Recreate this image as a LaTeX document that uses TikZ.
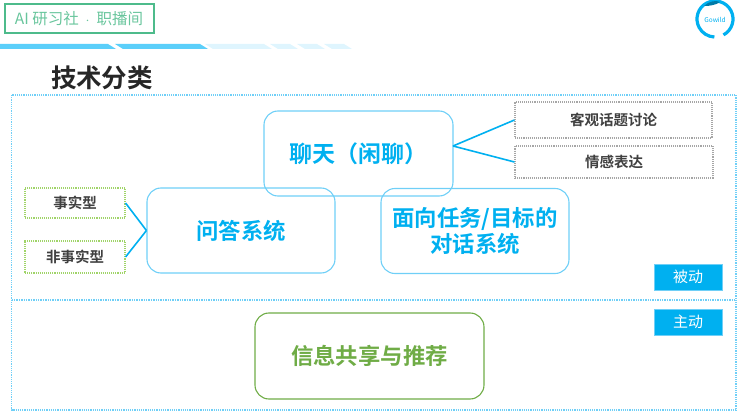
\documentclass[tikz,border=0pt]{standalone}
\usepackage{fontspec}
\setmainfont{Noto Sans CJK SC}[BoldFont={Noto Sans CJK SC Bold}]
\definecolor{skyline}{HTML}{00B0F0}
\definecolor{softline}{HTML}{6FCFF7}
\definecolor{tagline}{HTML}{4DBB8B}
\definecolor{leafline}{HTML}{6FAC46}
\definecolor{limeline}{HTML}{A0D468}
\definecolor{stripblue}{HTML}{5BCFFA}
\definecolor{stripsoft}{HTML}{DFF5FE}
\tikzset{
	mainbox/.style={draw=softline,line width=1.1pt,rounded corners=14pt,text=skyline,font=\fontsize{22.4}{26.5}\selectfont\bfseries,align=center,inner sep=0pt},
	limebox/.style={draw=limeline,densely dotted,line width=1.1pt,text=black!75,font=\fontsize{14.5}{16}\selectfont\bfseries,inner sep=0pt},
	greybox/.style={draw=black!35,densely dotted,line width=1.1pt,text=black!75,font=\fontsize{14.5}{16}\selectfont\bfseries,inner sep=0pt},
	tagbox/.style={fill=skyline,draw=softline,line width=.6pt,text=white,font=\fontsize{15}{16}\selectfont,inner sep=0pt,minimum width=68pt,minimum height=26pt},
	link/.style={skyline,line width=1.6pt}
}
\begin{document}
\begin{tikzpicture}[x=1pt,y=-1pt]
	\useasboundingbox (0,0) rectangle (740,414);
	% header
	\node[draw=tagline,line width=2pt,text=tagline!85!white,minimum width=149pt,minimum height=29pt,inner sep=0pt,font=\fontsize{15.5}{17}\selectfont] (tag) at (79,19) {AI 研习社 ~$\cdot$~ 职播间};
	\fill[stripblue] (0,44)--(108,44)--(116,49)--(0,49)--cycle;
	\fill[stripblue] (115,44)--(200,44)--(208,49)--(123,49)--cycle;
	\foreach \a/\b in {205/264,270/290,297/317,324/344}
		\fill[stripsoft] (\a,44)--(\b,44)--(\b+8,49)--(\a+8,49)--cycle;
	\node[text=black!85,font=\fontsize{25.5}{28}\selectfont\bfseries,inner sep=0pt] (title) at (102,78) {技术分类};
	% logo
	\draw[skyline,line width=3.2pt] (715,19)+(62:18) arc (62:-268:18);
	\fill[skyline!70!black] (704,6) .. controls (709,1) and (716,0) .. (720,2) .. controls (716,5) and (710,6) .. (704,6);
	\node[text=skyline,font=\fontsize{6.5}{7}\selectfont,inner sep=0pt] (logo) at (715,20) {Gowild};
	% panels
	\draw[softline,densely dotted,line width=1.2pt] (11.5,95) rectangle (736,410);
	\coordinate (midl) at (11.5,300);
	\coordinate (midr) at (736,300);
	\draw[softline,densely dotted,line width=1.4pt] (midl)--(midr);
	% boxes
	\node[mainbox,font=\fontsize{23}{26}\selectfont\bfseries,minimum width=189pt,minimum height=85pt] (chat) at (358.5,153.5) {聊天（闲聊）};
	\node[mainbox,minimum width=188pt,minimum height=85pt] (qa) at (241,230.5) {问答系统};
	\node[mainbox,minimum width=188pt,minimum height=85pt] (task) at (475,231) {面向任务/目标的\\对话系统};
	\node[mainbox,draw=leafline,text=leafline,minimum width=229pt,minimum height=86pt] (info) at (369.5,356) {信息共享与推荐};
	\node[limebox,minimum width=100pt,minimum height=30pt] (fact) at (75,203) {事实型};
	\node[limebox,minimum width=100pt,minimum height=32pt] (nonfact) at (75,257) {非事实型};
	\node[greybox,minimum width=197pt,minimum height=36pt] (topic) at (613.5,120) {客观话题讨论};
	\node[greybox,minimum width=198pt,minimum height=32pt] (emotion) at (614,162) {情感表达};
	\node[tagbox] (passive) at (688,277) {被动};
	\node[tagbox] (active) at (688,322) {主动};
	% links
	\coordinate (chatout) at (453,146);
	\draw[link] (fact.east)--(qa.west);
	\draw[link] (nonfact.east)--(qa.west);
	\draw[link] (chatout)--(topic.west);
	\draw[link] (chatout)--(emotion.west);
\end{tikzpicture}
\end{document}
